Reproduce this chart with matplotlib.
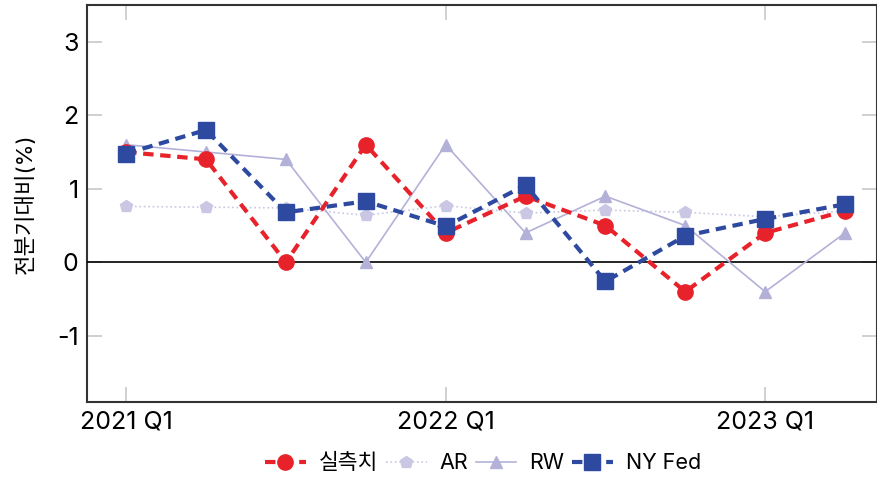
import numpy as np
import matplotlib
matplotlib.use('Agg')
import matplotlib.pyplot as plt

plt.rcParams['font.family'] = ['Inter', 'Noto Sans CJK KR', 'DejaVu Sans']
plt.rcParams['axes.unicode_minus'] = False

quarters = ['2021 Q1', '2021 Q2', '2021 Q3', '2021 Q4',
            '2022 Q1', '2022 Q2', '2022 Q3', '2022 Q4',
            '2023 Q1', '2023 Q2']
actual = [1.5, 1.4, 0.0, 1.6, 0.4, 0.9, 0.5, -0.4, 0.4, 0.7]
ar = [0.76, 0.75, 0.74, 0.64, 0.77, 0.67, 0.71, 0.68, 0.62, 0.70]
rw = [1.6, 1.5, 1.4, 0.0, 1.6, 0.4, 0.9, 0.5, -0.4, 0.4]
nyfed = [1.48, 1.80, 0.68, 0.83, 0.49, 1.05, -0.26, 0.36, 0.59, 0.79]
tick_labels = ['2021 Q1', '2022 Q1', '2023 Q1']

x = np.arange(len(quarters))

fig = plt.figure(figsize=(8.77, 4.78), dpi=100)
ax = fig.add_axes([87/877, 76/478, 790/877, 397/478])

# zero line above the tick marks, below the series
ax.axhline(0, color='black', linewidth=1.2, zorder=2.6)

ax.plot(x, ar, color='#c9c7e3', linestyle=':', linewidth=1.2,
        marker='p', markersize=9, label='AR', zorder=3)
ax.plot(x, rw, color='#b3b1d8', linestyle='-', linewidth=1.2,
        marker='^', markersize=8, label='RW', zorder=4)
ax.plot(x, actual, color='#e8222a', linestyle='--', dashes=(2.5, 1.6), linewidth=3,
        marker='o', markersize=11, label='실측치', zorder=5)
ax.plot(x, nyfed, color='#2d4aa0', linestyle='--', dashes=(2.5, 1.6), linewidth=3,
        marker='s', markersize=11, label='NY Fed', zorder=6)

ax.set_xlim(-0.49, 9.4)
ax.set_ylim(-1.9, 3.5)
ax.set_yticks([-1, 0, 1, 2, 3])
ax.set_xticks([0, 4, 8])
ax.set_xticklabels(tick_labels)
ax.tick_params(direction='in', length=11, width=1.2, color='#c8c8c8',
               labelsize=18, top=True, right=True, pad=6)
for s in ax.spines.values():
    s.set_color('#333333')
    s.set_linewidth(1.5)

ax.set_ylabel('전분기대비(%)', fontsize=16, labelpad=15)

handles, labels = ax.get_legend_handles_labels()
order = [2, 0, 1, 3]
fig.legend([handles[i] for i in order], [labels[i] for i in order],
           loc='center', bbox_to_anchor=(483/877, 1 - 463/478), ncol=4,
           frameon=False, fontsize=15.5, handlelength=1.9, columnspacing=0.35,
           handletextpad=0.6)

fig.savefig('out.png', dpi=100)
